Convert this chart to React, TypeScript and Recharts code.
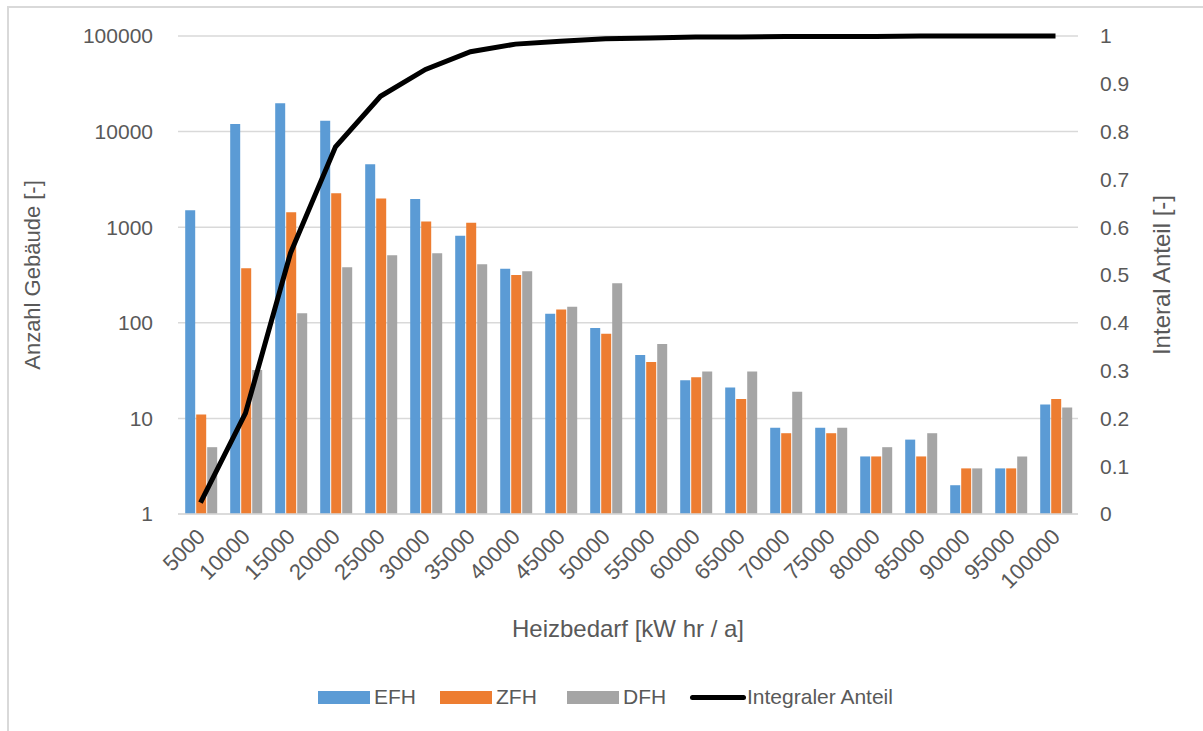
import { ComposedChart, Bar, Line, XAxis, YAxis, CartesianGrid } from 'recharts';

// Heizbedarf-Klassen [kWh/a]
const categories = [
  '5000', '10000', '15000', '20000', '25000', '30000', '35000', '40000', '45000', '50000',
  '55000', '60000', '65000', '70000', '75000', '80000', '85000', '90000', '95000', '100000',
];

const efh = [1500, 12000, 19800, 13000, 4550, 1970, 815, 368, 124, 88, 46, 25, 21, 8, 8, 4, 6, 2, 3, 14];
const zfh = [11, 372, 1430, 2260, 2000, 1150, 1110, 316, 138, 77, 39, 27, 16, 7, 7, 4, 4, 3, 3, 16];
const dfh = [5, 32, 126, 380, 508, 533, 409, 346, 147, 259, 60, 31, 31, 19, 8, 5, 7, 3, 4, 13];
const integral = [
  0.024, 0.211, 0.546, 0.768, 0.874, 0.93, 0.967, 0.983, 0.989, 0.994,
  0.996, 0.998, 0.998, 0.999, 0.999, 0.999, 1, 1, 1, 1,
];

const leftTicks = [1, 10, 100, 1000, 10000, 100000];
const rightTicks = [0, 0.1, 0.2, 0.3, 0.4, 0.5, 0.6, 0.7, 0.8, 0.9, 1];

const data = categories.map((c, i) => ({
  cat: c,
  EFH: efh[i],
  ZFH: zfh[i],
  DFH: dfh[i],
  integral: integral[i],
}));

const FONT = '"Liberation Sans", Arial, sans-serif';
const TEXT = '#595959';
const GRID = '#d9d9d9';

const XTick = (props: any) => {
  const { x, y, payload } = props;
  const ax = x + 6;
  const ay = y + 16;
  return (
    <text
      x={ax}
      y={ay}
      transform={`rotate(-45, ${ax}, ${ay})`}
      textAnchor="end"
      fill={TEXT}
      fontSize={22}
      fontFamily={FONT}
    >
      {payload.value}
    </text>
  );
};

const legendItems = [
  { name: 'EFH', color: '#5B9BD5', type: 'bar', left: 318 },
  { name: 'ZFH', color: '#ED7D31', type: 'bar', left: 440 },
  { name: 'DFH', color: '#A5A5A5', type: 'bar', left: 567 },
  { name: 'Integraler Anteil', color: '#000000', type: 'line', left: 690 },
];

export default function App() {
  return (
    <div style={{ position: 'fixed', left: 0, top: 0, width: 1203, height: 731, overflow: 'hidden', background: '#fff' }}>
      <div
        style={{
          position: 'absolute',
          left: 7,
          top: 6,
          width: 1300,
          height: 800,
          border: `2px solid ${GRID}`,
          boxSizing: 'border-box',
        }}
      />
      <div style={{ position: 'absolute', left: 0, top: 0 }}>
        <ComposedChart
          width={1203}
          height={731}
          data={data}
          margin={{ top: 36, right: 45, left: 10, bottom: 87 }}
          barCategoryGap="16%"
          barGap={1}
        >
          <CartesianGrid yAxisId="left" vertical={false} stroke={GRID} strokeWidth={1.5} />
          <XAxis
            dataKey="cat"
            interval={0}
            height={130}
            tick={<XTick />}
            tickLine={false}
            axisLine={{ stroke: GRID, strokeWidth: 1.5 }}
            label={{
              content: (p: any) => (
                <text
                  x={p.viewBox.x + p.viewBox.width / 2}
                  y={628}
                  textAnchor="middle"
                  dominantBaseline="central"
                  fill={TEXT}
                  fontSize={24}
                  fontFamily={FONT}
                >
                  Heizbedarf [kW hr / a]
                </text>
              ),
            }}
          />
          <YAxis
            yAxisId="left"
            scale="log"
            domain={[1, 100000]}
            ticks={leftTicks}
            allowDataOverflow
            width={168}
            tickSize={0}
            tickMargin={25}
            axisLine={false}
            tickLine={false}
            tick={{ fill: TEXT, fontSize: 21, fontFamily: FONT }}
            label={{
              content: (p: any) => {
                const cy = p.viewBox.y + p.viewBox.height / 2;
                return (
                  <text
                    x={32}
                    y={cy}
                    transform={`rotate(-90, 32, ${cy})`}
                    textAnchor="middle"
                    dominantBaseline="central"
                    fill={TEXT}
                    fontSize={22}
                    fontFamily={FONT}
                  >
                    Anzahl Gebäude [-]
                  </text>
                );
              },
            }}
          />
          <YAxis
            yAxisId="right"
            orientation="right"
            domain={[0, 1]}
            ticks={rightTicks}
            width={80}
            tickSize={0}
            tickMargin={22}
            axisLine={false}
            tickLine={false}
            tick={{ fill: TEXT, fontSize: 21, fontFamily: FONT, textAnchor: 'start' }}
            label={{
              content: (p: any) => {
                const cy = p.viewBox.y + p.viewBox.height / 2;
                return (
                  <text
                    x={1161}
                    y={cy}
                    transform={`rotate(-90, 1161, ${cy})`}
                    textAnchor="middle"
                    dominantBaseline="central"
                    fill={TEXT}
                    fontSize={24}
                    fontFamily={FONT}
                  >
                    Interal Anteil [-]
                  </text>
                );
              },
            }}
          />
          <Bar yAxisId="left" dataKey="EFH" fill="#5B9BD5" isAnimationActive={false} />
          <Bar yAxisId="left" dataKey="ZFH" fill="#ED7D31" isAnimationActive={false} />
          <Bar yAxisId="left" dataKey="DFH" fill="#A5A5A5" isAnimationActive={false} />
          <Line
            yAxisId="right"
            dataKey="integral"
            stroke="#000"
            strokeWidth={5}
            dot={false}
            type="linear"
            isAnimationActive={false}
          />
        </ComposedChart>
      </div>
      {legendItems.map((it) => (
        <div
          key={it.name}
          style={{
            position: 'absolute',
            left: it.left,
            top: 684,
            height: 26,
            display: 'flex',
            alignItems: 'center',
            fontFamily: FONT,
            fontSize: 21,
            color: TEXT,
            whiteSpace: 'nowrap',
          }}
        >
          {it.type === 'bar' ? (
            <div style={{ width: 52, height: 13, background: it.color, marginRight: 4 }} />
          ) : (
            <div style={{ width: 56, height: 5, background: it.color, borderRadius: 3, marginRight: 1 }} />
          )}
          <span>{it.name}</span>
        </div>
      ))}
    </div>
  );
}
